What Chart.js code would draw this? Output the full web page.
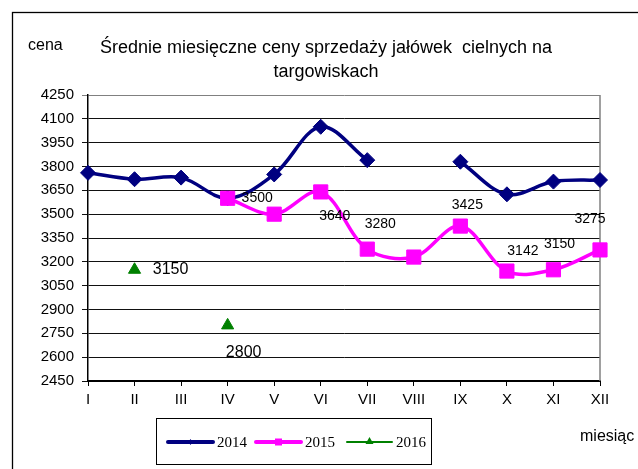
<!DOCTYPE html>
<html>
<head>
<meta charset="utf-8">
<script src="https://cdn.jsdelivr.net/npm/chart.js@4.4.1/dist/chart.umd.min.js"></script>
<style>
html,body{margin:0;padding:0;background:#fff;}
canvas{display:block;}
</style>
</head>
<body>
<canvas id="c" width="638" height="469"></canvas>
<script>
// ---- data ----
const months = ['I','II','III','IV','V','VI','VII','VIII','IX','X','XI','XII'];
const price2014 = [3760, 3720, 3730, 3600, 3750, 4050, 3840, null, 3830, 3625, 3705, 3715];
const price2015 = [null, null, null, 3600, 3500, 3640, 3280, 3230, 3425, 3142, 3150, 3275];
const price2016 = [null, 3150, null, 2800, null, null, null, null, null, null, null, null];
const seriesNames = ['2014', '2015', '2016'];
const yMin = 2450, yMax = 4250, yStep = 150;
// which points carry a value label
const labelled2015 = [false, false, false, false, true, true, true, false, true, true, true, true];
const labelled2016 = [false, true, false, true, false, false, false, false, false, false, false, false];

// ---- styling (pixel offsets of value labels relative to their points) ----
const labelOffset2015 = [null, null, null, null, [-17,-16], [14,24], [13,-25], null, [7,-21], [16,-20], [6,-26], [-10,-31]];
const labelOffset2016 = [null, [36,0], null, [16,27], null, null, null, null, null, null, null, null];
const SANS = "'Liberation Sans',Arial,sans-serif";
const SERIF = "'Liberation Serif','Times New Roman',serif";
const NAVY = '#000080', MAGENTA = '#FF00FF', GREEN = '#008000';

const decor = {
  id: 'decor',
  beforeDraw(chart) {
    const c = chart.ctx;
    c.save();
    c.fillStyle = '#fff';
    c.fillRect(0, 0, chart.width, chart.height);
    c.strokeStyle = '#000';
    c.lineWidth = 1.3;
    c.strokeRect(12.5, 12.5, chart.width + 20, chart.height + 20);
    c.restore();
  },
  beforeDatasetsDraw(chart) {
    const c = chart.ctx, a = chart.chartArea;
    c.save();
    c.strokeStyle = '#808080';
    c.lineWidth = 1.5;
    c.beginPath();
    c.moveTo(a.right, a.top);
    c.lineTo(a.right, a.bottom);
    c.stroke();
    c.restore();
  },
  afterDatasetsDraw(chart) {
    const c = chart.ctx;
    c.save();
    c.fillStyle = '#000';
    c.textAlign = 'center';
    c.textBaseline = 'middle';
    const sets = [[1, price2015, labelled2015, labelOffset2015, 14], [2, price2016, labelled2016, labelOffset2016, 16]];
    sets.forEach(([di, vals, show, offs, fs]) => {
      const meta = chart.getDatasetMeta(di);
      c.font = fs + "px " + SANS;
      vals.forEach((v, i) => {
        if (v == null || !show[i]) return;
        const p = meta.data[i];
        const o = offs[i] || [0, -15];
        c.fillText(String(v), p.x + o[0], p.y + o[1]);
      });
    });
    c.restore();
  },
  afterDraw(chart) {
    const c = chart.ctx;
    c.save();
    c.fillStyle = '#000';
    // title
    c.font = "18px " + SANS;
    c.textAlign = 'center';
    c.textBaseline = 'middle';
    const cx = 326;
    c.fillText('Średnie miesięczne ceny sprzedaży jałówek  cielnych na', cx, 48);
    c.fillText('targowiskach', cx, 72);
    // axis names
    c.font = "16px " + SANS;
    c.textAlign = 'left';
    c.fillText('cena', 28, 46);
    c.fillText('miesiąc', 580, 437);
    // legend
    const lx = 156, ly = 418, lw = 275, lh = 46;
    c.strokeStyle = '#000';
    c.lineWidth = 1;
    c.strokeRect(lx + 0.5, ly + 0.5, lw, lh);
    const items = [
      {name: seriesNames[0], color: NAVY, w: 4, shape: 'diamond', x: 168},
      {name: seriesNames[1], color: MAGENTA, w: 4, shape: 'square', x: 256},
      {name: seriesNames[2], color: GREEN, w: 2, shape: 'triangle', x: 347}
    ];
    const my = 442;
    c.font = "15px " + SERIF;
    items.forEach(it => {
      c.strokeStyle = it.color;
      c.fillStyle = it.color;
      c.lineWidth = it.w;
      c.lineCap = 'round';
      c.beginPath();
      c.moveTo(it.x, my);
      c.lineTo(it.x + 45, my);
      c.stroke();
      const mx = it.x + 22.5;
      c.beginPath();
      if (it.shape === 'diamond') {
        c.moveTo(mx, my - 3); c.lineTo(mx + 2, my); c.lineTo(mx, my + 3); c.lineTo(mx - 2, my);
      } else if (it.shape === 'square') {
        c.rect(mx - 3.5, my - 3.5, 7, 7);
      } else {
        c.moveTo(mx, my - 5); c.lineTo(mx + 4, my + 2); c.lineTo(mx - 4, my + 2);
      }
      c.closePath();
      c.fill();
      c.fillStyle = '#000';
      c.textAlign = 'left';
      c.fillText(it.name, it.x + 49, my + 1);
    });
    c.restore();
  }
};

new Chart(document.getElementById('c'), {
  type: 'line',
  data: {
    labels: months,
    datasets: [
      {
        label: seriesNames[0], data: price2014, order: 2,
        borderColor: NAVY, backgroundColor: NAVY, borderWidth: 3.5,
        pointStyle: 'rectRot', pointRadius: 7.5, pointBorderWidth: 1,
        pointBackgroundColor: NAVY, pointBorderColor: NAVY,
        tension: 0.35, spanGaps: false
      },
      {
        label: seriesNames[1], data: price2015, order: 1,
        borderColor: MAGENTA, backgroundColor: MAGENTA, borderWidth: 3.5,
        pointStyle: 'rect', pointRadius: 10, pointBorderWidth: 1,
        pointBackgroundColor: MAGENTA, pointBorderColor: MAGENTA,
        tension: 0.35, spanGaps: false
      },
      {
        label: seriesNames[2], data: price2016, order: 0,
        borderColor: GREEN, backgroundColor: GREEN, borderWidth: 2,
        pointStyle: 'triangle', pointRadius: 7, pointBorderWidth: 1,
        pointBackgroundColor: GREEN, pointBorderColor: GREEN,
        showLine: false, spanGaps: false
      }
    ]
  },
  options: {
    responsive: false,
    animation: false,
    devicePixelRatio: 1,
    layout: { padding: { left: 38, right: 38, top: 95, bottom: 58 } },
    plugins: { legend: { display: false }, title: { display: false }, tooltip: { enabled: false } },
    scales: {
      x: {
        type: 'category',
        offset: false,
        afterFit(s) { s.height = 30; },
        grid: { drawOnChartArea: false, drawTicks: true, tickLength: 5, color: '#000', lineWidth: 1 },
        border: { display: true, color: '#000', width: 2 },
        ticks: { color: '#000', font: { family: SANS, size: 15 }, padding: 5, maxRotation: 0, autoSkip: false }
      },
      y: {
        min: yMin, max: yMax,
        afterFit(s) { s.width = 50; },
        grid: {
          drawTicks: true, tickLength: 6, lineWidth: 1,
          color: (ctx) => (ctx.tick && ctx.tick.value === yMax) ? '#808080' : '#111'
        },
        border: { display: true, color: '#000', width: 1.5 },
        ticks: {
          stepSize: yStep, color: '#000', font: { family: SANS, size: 15 }, padding: 8,
          callback: (v) => String(v)
        }
      }
    }
  },
  plugins: [decor]
});
</script>
</body>
</html>
